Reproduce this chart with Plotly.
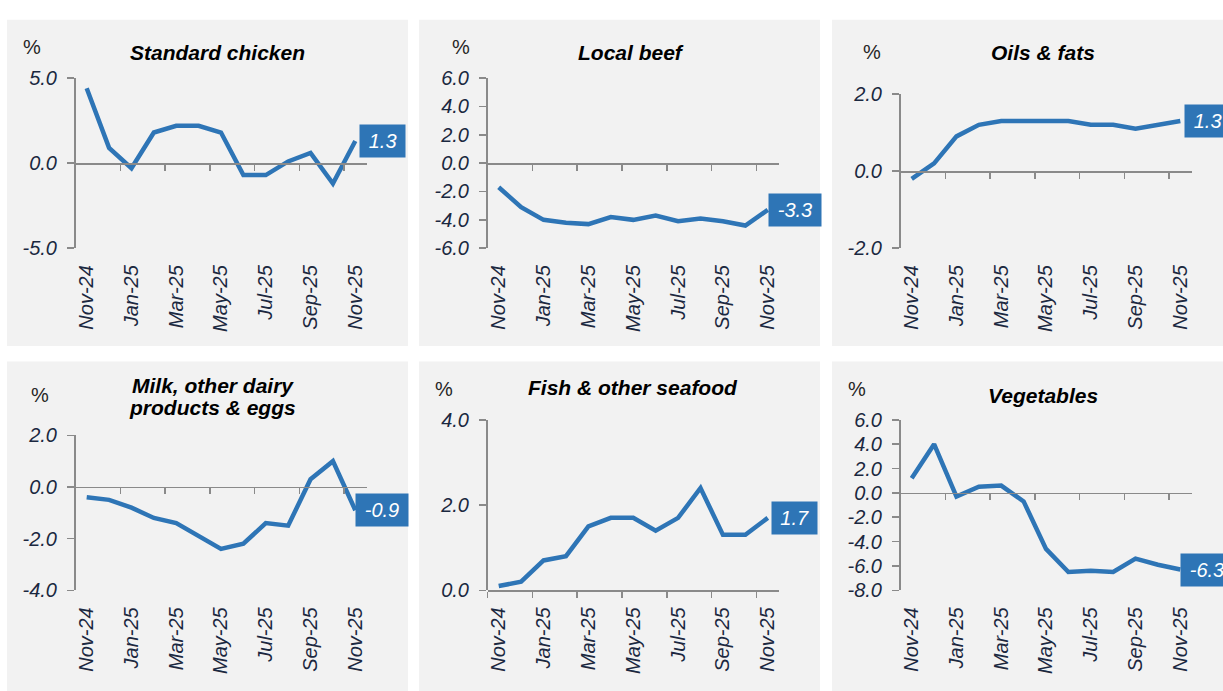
import plotly.graph_objects as go

months = ["Nov-24", "Dec-24", "Jan-25", "Feb-25", "Mar-25", "Apr-25", "May-25",
          "Jun-25", "Jul-25", "Aug-25", "Sep-25", "Oct-25", "Nov-25"]

titles = ["Standard chicken", "Local beef", "Oils & fats",
          "Milk, other dairy<br>products & eggs", "Fish & other seafood", "Vegetables"]

standard_chicken = [4.4, 0.9, -0.3, 1.8, 2.2, 2.2, 1.8, -0.7, -0.7, 0.1, 0.6, -1.2, 1.3]
local_beef = [-1.7, -3.1, -4.0, -4.2, -4.3, -3.8, -4.0, -3.7, -4.1, -3.9, -4.1, -4.4, -3.3]
oils_fats = [-0.2, 0.2, 0.9, 1.2, 1.3, 1.3, 1.3, 1.3, 1.2, 1.2, 1.1, 1.2, 1.3]
milk_dairy_eggs = [-0.4, -0.5, -0.8, -1.2, -1.4, -1.9, -2.4, -2.2, -1.4, -1.5, 0.3, 1.0, -0.9]
fish_seafood = [0.1, 0.2, 0.7, 0.8, 1.5, 1.7, 1.7, 1.4, 1.7, 2.4, 1.3, 1.3, 1.7]
vegetables = [1.2, 4.0, -0.3, 0.5, 0.6, -0.7, -4.6, -6.5, -6.4, -6.5, -5.4, -5.9, -6.3]

series = [standard_chicken, local_beef, oils_fats, milk_dairy_eggs, fish_seafood, vegetables]

y_ticks = [[-5.0, 0.0, 5.0],
           [-6.0, -4.0, -2.0, 0.0, 2.0, 4.0, 6.0],
           [-2.0, 0.0, 2.0],
           [-4.0, -2.0, 0.0, 2.0],
           [0.0, 2.0, 4.0],
           [-8.0, -6.0, -4.0, -2.0, 0.0, 2.0, 4.0, 6.0]]

# ---------------- layout geometry (pixels) ----------------
W, H = 1223, 691
panels_px = [(7, 408, 9, 346), (419, 820, 9, 346), (832, 1240, 9, 346),
             (7, 408, 362, 710), (419, 820, 362, 710), (832, 1240, 362, 710)]
plot_x_px = [(75.5, 366.5), (487.5, 779), (900.5, 1191.5),
             (75.5, 366.5), (487.5, 779), (900.5, 1191.5)]
plot_y_px = [(69.3, 245), (69.3, 245), (85.7, 245),
             (438.3, 598.3), (422.3, 598.3), (422.3, 598.3)]
title_pos = [(217.7, 42.7), (630.8, 42.7), (1043, 42.7),
             (213, 398.3), (632.5, 389), (1043, 396.7)]
pct_pos = [(31.7, 37.3), (460.7, 37.3), (871.7, 42.7),
           (40, 396.7), (444, 390), (856.7, 390)]

BLUE = "#2e75b6"
AXIS = "#8a8a8a"
TICKC = "#1b2840"
FONT = "Liberation Sans, Arial, sans-serif"


def px_x(v):
    return v / W


def px_y(v):
    return 1 - v / H


def text_width(s, size):
    w = {"-": 0.333, ".": 0.278}
    return sum(w.get(c, 0.556) for c in s) * size


fig = go.Figure()
shapes = []
annotations = []
layout = {}
xs = list(range(len(months)))

for i in range(6):
    n = i + 1
    sx = "" if n == 1 else str(n)
    zx = str(n + 6)
    vals = series[i]
    ymin, ymax = y_ticks[i][0], y_ticks[i][-1]

    # panel background
    x0, x1, y0, y1 = panels_px[i]
    shapes.append(dict(type="rect", xref="paper", yref="paper",
                       x0=px_x(x0), x1=px_x(x1), y0=px_y(y1), y1=px_y(y0),
                       fillcolor="#f2f2f2", line=dict(width=0), layer="below"))

    xd = [px_x(plot_x_px[i][0]), px_x(plot_x_px[i][1])]
    yd = [px_y(plot_y_px[i][1]), px_y(plot_y_px[i][0])]

    fig.add_trace(go.Scatter(x=xs, y=vals, mode="lines",
                             line=dict(color=BLUE, width=4.5),
                             xaxis="x" + sx, yaxis="y" + sx, showlegend=False,
                             hoverinfo="skip"))
    # empty trace so the zero-line axis is drawn
    fig.add_trace(go.Scatter(x=[], y=[], xaxis="x" + zx, yaxis="y" + sx,
                             showlegend=False, hoverinfo="skip"))

    layout["xaxis" + sx] = dict(
        domain=xd, anchor="y" + sx, range=[-0.5, 12.5],
        tickmode="array", tickvals=xs[::2], ticktext=months[::2],
        tickangle=-90, ticks="", showline=False, showgrid=False, zeroline=False,
        ticklabelstandoff=12,
        tickfont=dict(family=FONT, size=20, color=TICKC, style="italic"))
    zero_pos = yd[0] + (0 - ymin) / (ymax - ymin) * (yd[1] - yd[0])
    layout["xaxis" + zx] = dict(
        overlaying="x" + sx, anchor="free", position=zero_pos, side="bottom",
        range=[-0.5, 12.5], tickmode="array",
        tickvals=[v - 0.5 for v in xs[::2]], showticklabels=False,
        ticks="outside", ticklen=6, tickwidth=1.5, tickcolor=AXIS,
        showline=True, linecolor=AXIS, linewidth=1.5,
        showgrid=False, zeroline=False)
    layout["yaxis" + sx] = dict(
        domain=yd, anchor="x" + sx, range=[ymin, ymax],
        tickmode="array", tickvals=y_ticks[i],
        ticktext=[f"{v:.1f}" for v in y_ticks[i]],
        ticks="outside", ticklen=7, tickwidth=1.5, tickcolor=AXIS,
        showline=True, linecolor=AXIS, linewidth=1.5,
        showgrid=False, zeroline=False, ticklabelstandoff=6,
        tickfont=dict(family=FONT, size=20, color=TICKC, style="italic"))

    # title (may be two lines)
    lines = titles[i].split("<br>")
    tx, ty = title_pos[i]
    step = 23.3
    start = ty - step * (len(lines) - 1) / 2
    for k, ln in enumerate(lines):
        annotations.append(dict(
            text=ln, xref="paper", yref="paper", x=px_x(tx), y=px_y(start + k * step),
            xanchor="center", yanchor="middle", showarrow=False,
            font=dict(family=FONT, size=21, color="#000000", weight="bold",
                      style="italic")))

    # % unit label
    annotations.append(dict(
        text="%", xref="paper", yref="paper", x=px_x(pct_pos[i][0]),
        y=px_y(pct_pos[i][1]), xanchor="center", yanchor="middle",
        showarrow=False, font=dict(family=FONT, size=20, color="#262626")))

    # last value label
    lab = f"{vals[-1]:.1f}"
    annotations.append(dict(
        text=lab, xref="x" + sx, yref="y" + sx, x=xs[-1], y=vals[-1],
        xanchor="center", yanchor="middle", xshift=27, showarrow=False,
        bgcolor=BLUE, borderpad=4, width=text_width(lab, 20) + 9.5, height=24,
        align="center",
        font=dict(family=FONT, size=20, color="#ffffff", style="italic")))

fig.update_layout(
    width=W, height=H, margin=dict(l=0, r=0, t=0, b=0),
    paper_bgcolor="#ffffff", plot_bgcolor="rgba(0,0,0,0)",
    shapes=shapes, annotations=annotations, showlegend=False,
    hovermode=False, **layout)

# remove the default page margin so the 1223x691 figure fills the window exactly
fig.write_html("out.html",
               config={"displayModeBar": False, "staticPlot": True},
               post_script="document.body.style.margin='0';"
                           "document.body.style.overflow='hidden';")
